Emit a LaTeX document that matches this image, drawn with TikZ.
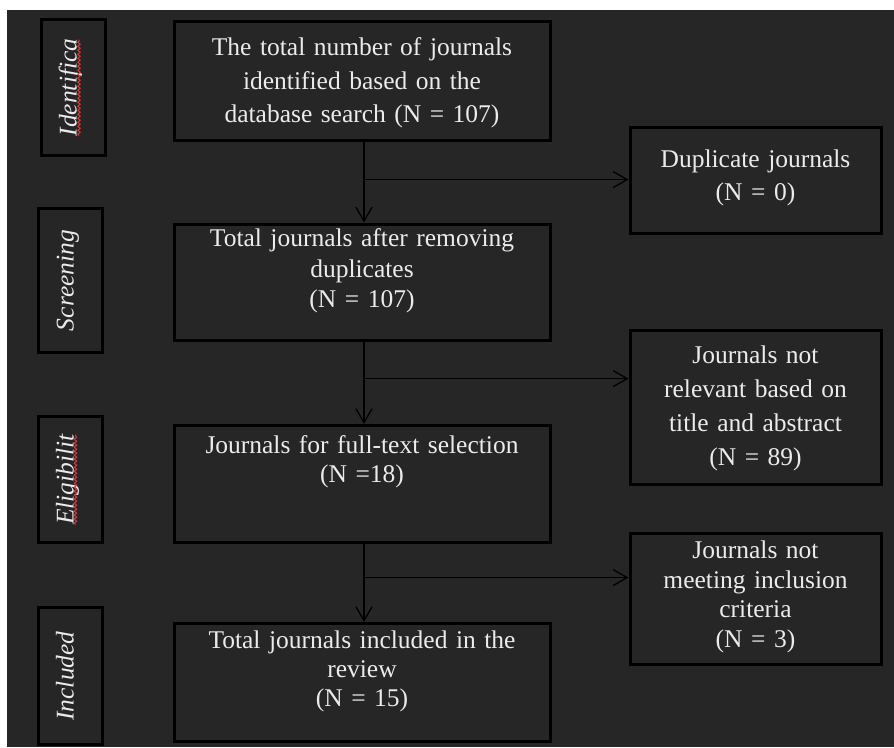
\documentclass[tikz,border=0pt]{standalone}
\usepackage[usenames,dvipsnames,svgnames,table]{xcolor}
\usepackage{fontspec}
\setmainfont{Liberation Serif}
\usepackage{tikz}
\usetikzlibrary{arrows.meta, calc, decorations.pathmorphing}
\definecolor{panel}{HTML}{262626}
\definecolor{ink}{HTML}{EBEBEB}
\definecolor{spellred}{HTML}{E0383A}

\begin{document}
\begin{tikzpicture}[x=1pt, y=-1pt, every node/.style={text=ink, font=\fontsize{25.5}{30}\selectfont},
    lines/.style={font=\fontsize{25.5}{#1}\selectfont},
    stage/.style={draw=black, line width=3pt, rotate=90, inner sep=0pt, minimum height=64pt, text height=17pt, text depth=11pt, font=\fontsize{25.5}{30}\selectfont\itshape},
    flowbox/.style={draw=black, line width=3pt, anchor=north west, align=center, inner sep=0pt},
    wide/.style={flowbox, text width=376pt},
    side/.style={flowbox, text width=251pt},
    flowarrow/.style={draw=black, line width=1.3pt, -{Straight Barb[length=14pt,width=16pt]}},
    typo/.style={draw=spellred, line width=1pt, decorate, decoration={snake, segment length=4pt, amplitude=1.2pt}}]
    \useasboundingbox (0,0) rectangle (894,747);
    \fill[white] (0,0) rectangle (894,747);
    \fill[panel] (7,10) rectangle (894,747);

    \node[stage, minimum width=136pt] (ident) at (73.5,87.5) {Identifica};
    \node[stage, minimum width=144pt] (screen) at (70.5,280.5) {Screening};
    \node[stage, minimum width=126pt] (elig) at (70.5,479.5) {Eligibilit};
    \node[stage, minimum width=137pt] (incl) at (70.5,676) {Included};
    \draw[typo] ($(ident.center)+(5.5,48)$) -- ($(ident.center)+(5.5,-48)$);
    \draw[typo] ($(elig.center)+(5,45)$) -- ($(elig.center)+(5,-45)$);

    \node[wide, lines=33.5, text height=34.5pt, text depth=84.5pt] (found) at (172.5,19.5)
        {The total number of journals\\identified based on the\\database search (N = 107)};
    \node[wide, lines=30.5, text height=22.5pt, text depth=93.5pt] (dedup) at (172.5,222.5)
        {Total journals after removing\\duplicates\\(N = 107)};
    \node[wide, lines=29, text height=28pt, text depth=89pt] (full) at (172.5,424)
        {Journals for full-text selection\\(N =18)};
    \node[wide, lines=29, text height=25pt, text depth=93pt] (final) at (172.5,622)
        {Total journals included in the\\review\\(N = 15)};

    \node[side, lines=32.5, text height=40.5pt, text depth=65.5pt] (dup) at (628.5,125.5)
        {Duplicate journals\\(N = 0)};
    \node[side, lines=34, text height=33.5pt, text depth=120.5pt] (irrel) at (628.5,328.5)
        {Journals not\\relevant based on\\title and abstract\\(N = 89)};
    \node[side, lines=29.5, text height=25.5pt, text depth=105.5pt] (unmet) at (628.5,531.5)
        {Journals not\\meeting inclusion\\criteria\\(N = 3)};

    \draw[flowarrow] ([xshift=2pt]found.south) -- coordinate[pos=0.47] (j1) ([xshift=2pt]dedup.north);
    \draw[flowarrow] ([xshift=2pt]dedup.south) -- coordinate[pos=0.45] (j2) ([xshift=2pt]full.north);
    \draw[flowarrow] ([xshift=2pt]full.south) -- coordinate[pos=0.43] (j3) ([xshift=2pt]final.north);
    \draw[flowarrow] (j1) -- (j1 -| dup.west);
    \draw[flowarrow] (j2) -- (j2 -| irrel.west);
    \draw[flowarrow] (j3) -- (j3 -| unmet.west);
\end{tikzpicture}
\end{document}
